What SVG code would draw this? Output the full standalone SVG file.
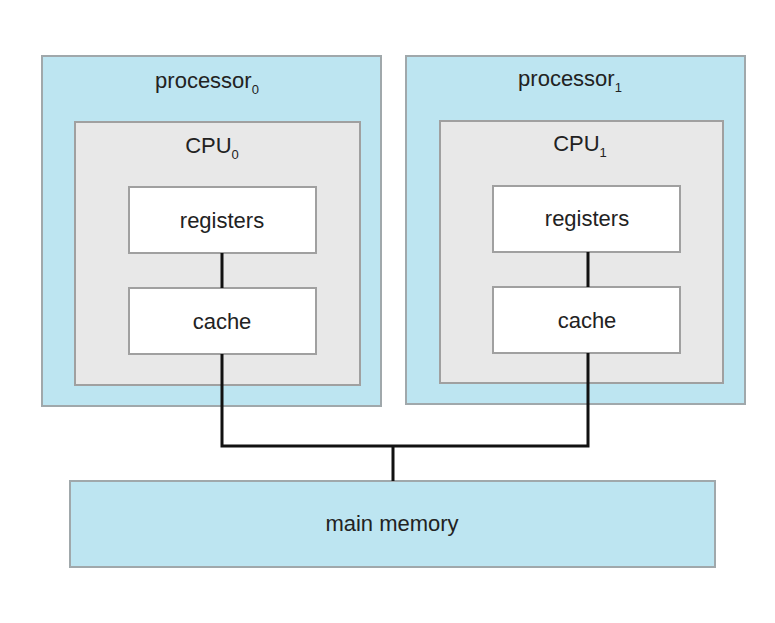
<svg xmlns="http://www.w3.org/2000/svg" width="775" height="623" viewBox="0 0 775 623">
<style>
.proc{fill:#bde5f1;stroke:#a0a8ab;stroke-width:2}
.cpu{fill:#e8e8e8;stroke:#a0a0a0;stroke-width:2}
.box{fill:#fff;stroke:#a0a0a0;stroke-width:2}
text{font-family:"Liberation Sans",Arial,sans-serif;font-size:22px;fill:#222;text-anchor:middle}
.sub{font-size:13px}
.c{stroke:#111;stroke-width:3;fill:none}
</style>
<rect width="775" height="623" fill="#fff"/>
<g id="processor0"><rect class="proc" x="42" y="56" width="339" height="350"/><text x="207" y="88">processor<tspan class="sub" dy="6">0</tspan></text></g>
<g id="cpu0"><rect class="cpu" x="75" y="122" width="285" height="263"/><text x="212" y="153">CPU<tspan class="sub" dy="6">0</tspan></text></g>
<g id="registers0"><rect class="box" x="129" y="187" width="187" height="66"/><text x="222" y="228">registers</text></g>
<g id="cache0"><rect class="box" x="129" y="288" width="187" height="66"/><text x="222" y="329">cache</text></g>
<g id="processor1"><rect class="proc" x="406" y="56" width="339" height="348"/><text x="570" y="86">processor<tspan class="sub" dy="6">1</tspan></text></g>
<g id="cpu1"><rect class="cpu" x="440" y="121" width="283" height="262"/><text x="580" y="151">CPU<tspan class="sub" dy="6">1</tspan></text></g>
<g id="registers1"><rect class="box" x="493" y="186" width="187" height="66"/><text x="587" y="226">registers</text></g>
<g id="cache1"><rect class="box" x="493" y="287" width="187" height="66"/><text x="587" y="328">cache</text></g>
<g id="memory"><rect class="proc" x="70" y="481" width="645" height="86"/><text x="392" y="531">main memory</text></g>
<g id="connectors">
<path class="c" d="M222 253V288M588 252V287M222 354V446H588V353M393 446V481"/>
</g>
</svg>
